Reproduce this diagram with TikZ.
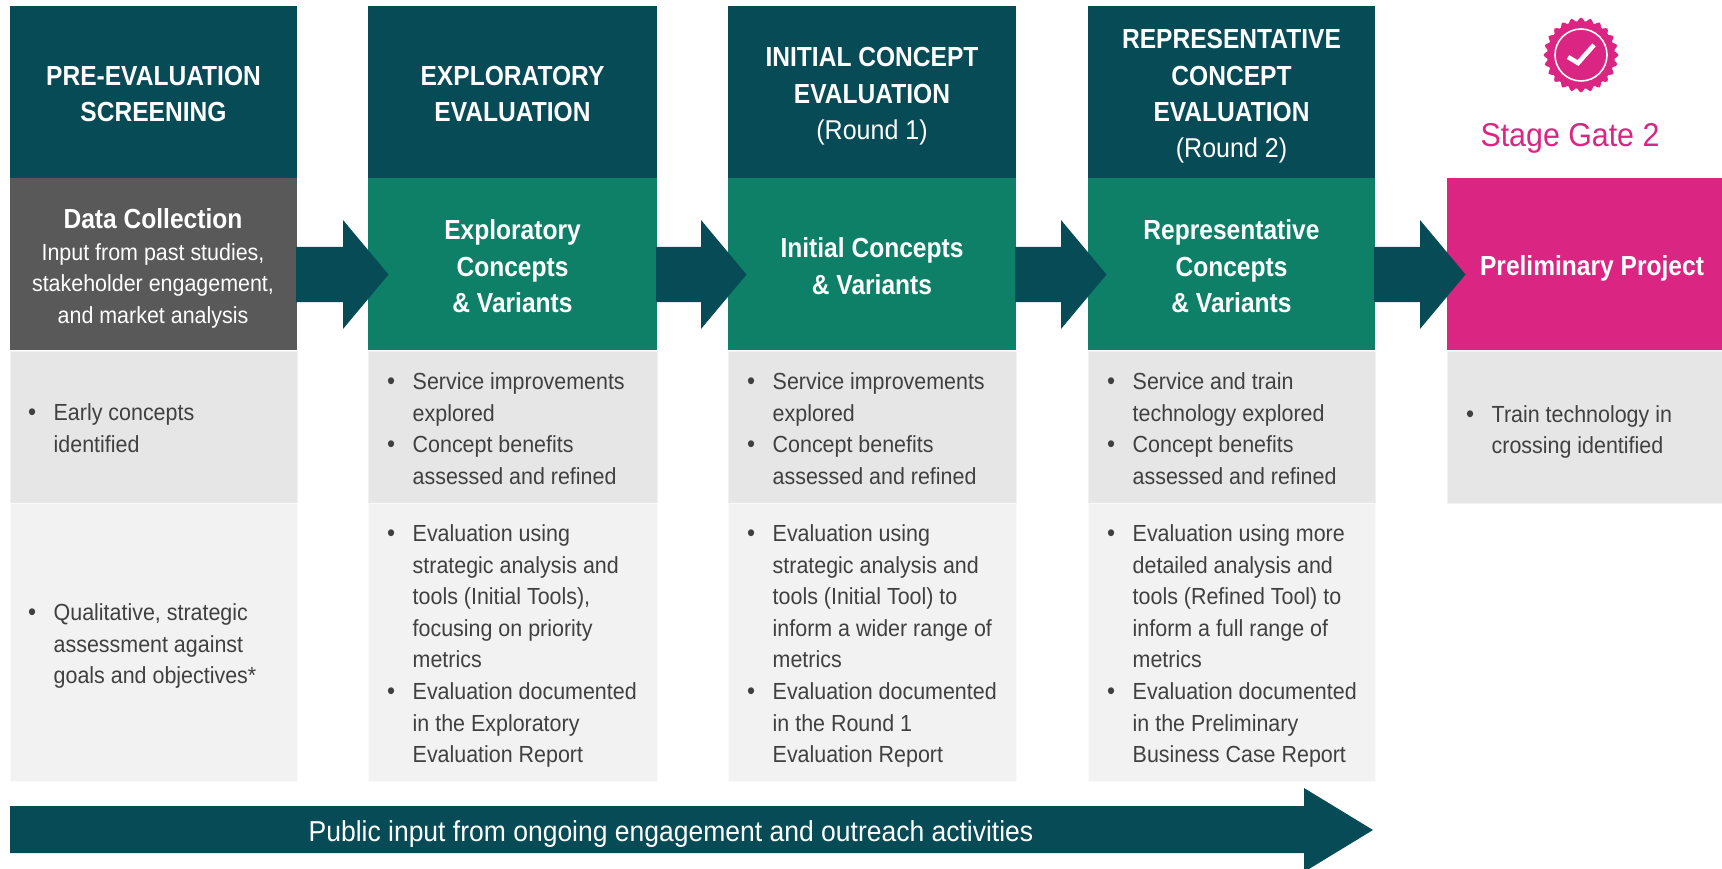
\documentclass[tikz,border=0pt]{standalone}
\usepackage{fontspec}
\setmainfont[FakeStretch=0.92,BoldFeatures={FakeStretch=0.89}]{Liberation Sans}
\usetikzlibrary{calc}
\definecolor{deepteal}{HTML}{064B55}
\definecolor{midgreen}{HTML}{0E8068}
\definecolor{slategray}{HTML}{595959}
\definecolor{rowa}{HTML}{E6E6E6}
\definecolor{rowb}{HTML}{F2F2F2}
\definecolor{edgea}{HTML}{F1F1F1}
\definecolor{edgeb}{HTML}{FAFAFA}
\definecolor{hotpink}{HTML}{DB2583}
\definecolor{bodytxt}{HTML}{404040}
\newcommand{\bl}[1]{\hspace*{2pt}\makebox[25.5pt][l]{\fontsize{25}{31.6}\selectfont •}#1}
\newcommand{\cn}[1]{\hspace*{27.5pt}#1}
\newcommand{\blockarrow}[2]{\fill[deepteal] ([yshift=17pt,xshift=-1pt]#1.east) -- ++(#2,0) -- ++(0,-27) -- ++(45.5,54.5) -- ++(-45.5,54.5) -- ++(0,-27) -- ++(-#2,0) -- cycle;}
\newcommand{\rg}{\fontsize{27.2}{36.3}\selectfont\mdseries}
\tikzset{
 cell/.style={inner sep=0pt,outer sep=0pt,minimum height=#1,anchor=north west},
 head/.style={cell=172pt,fill=deepteal},
 midc/.style={cell=172pt,fill=midgreen},
 boldtxt/.style={inner sep=0pt,text=white,align=center,font=\fontsize{27.6}{36.3}\selectfont\bfseries},
 rowthree/.style={cell=152pt,fill=rowa,draw=edgea,line width=0.9pt},
 rowfour/.style={cell=278pt,fill=rowb,draw=edgeb,line width=0.9pt},
 bullets/.style={inner sep=0pt,anchor=west,align=left,text=bodytxt,font=\fontsize{23.3}{31.6}\selectfont},
}
\begin{document}
\begin{tikzpicture}[x=1pt,y=-1pt]
\useasboundingbox (0,0) rectangle (1722,869);
% column 1
\node[rowthree,minimum width=287pt] (a1) at (10,351) {};
\node[rowfour,minimum width=287pt] (b1) at (10,503) {};
\node[head,minimum width=287pt] (h1) at (10,6) {};
\node[boldtxt] (h1t) at ([yshift=-1.8pt]h1.center) {PRE-EVALUATION\\SCREENING};
\node[cell=172pt,fill=slategray,minimum width=287pt] (m1) at (10,178) {};
\node[inner sep=0pt,text=white,align=center,font=\fontsize{23.3}{31.6}\selectfont] (m1t) at (153,268.5) {{\fontsize{27.6}{31.6}\selectfont\bfseries Data Collection}\\Input from past studies,\\stakeholder engagement,\\and market analysis};
\node[bullets] (a1t) at (26,428) {\bl{Early concepts}\\\cn{identified}};
\node[bullets] (b1t) at (26,646) {\bl{Qualitative, strategic}\\\cn{assessment against}\\\cn{goals and objectives*}};
% column 2
\node[rowthree,minimum width=289pt] (a2) at (368,351) {};
\node[rowfour,minimum width=289pt] (b2) at (368,503) {};
\node[head,minimum width=289pt] (h2) at (368,6) {};
\node[boldtxt] (h2t) at ([yshift=-1.8pt]h2.center) {EXPLORATORY\\EVALUATION};
\node[midc,minimum width=289pt] (m2) at (368,178) {};
\node[boldtxt] (m2t) at ([yshift=-2.2pt]m2.center) {Exploratory\\Concepts\\\& Variants};
\node[bullets] (a2t) at (385,428.5) {\bl{Service improvements}\\\cn{explored}\\\bl{Concept benefits}\\\cn{assessed and refined}};
\node[bullets] (b2t) at (385,646) {\bl{Evaluation using}\\\cn{strategic analysis and}\\\cn{tools (Initial Tools),}\\\cn{focusing on priority}\\\cn{metrics}\\\bl{Evaluation documented}\\\cn{in the Exploratory}\\\cn{Evaluation Report}};
% column 3
\node[rowthree,minimum width=288pt] (a3) at (728,351) {};
\node[rowfour,minimum width=288pt] (b3) at (728,503) {};
\node[head,minimum width=288pt] (h3) at (728,6) {};
\node[boldtxt] (h3t) at ([yshift=-4.4pt]h3.center) {INITIAL CONCEPT\\EVALUATION\\{\rg (Round 1)}};
\node[midc,minimum width=288pt] (m3) at (728,178) {};
\node[boldtxt] (m3t) at ([yshift=-2.2pt]m3.center) {Initial Concepts\\\& Variants};
\node[bullets] (a3t) at (745,428.5) {\bl{Service improvements}\\\cn{explored}\\\bl{Concept benefits}\\\cn{assessed and refined}};
\node[bullets] (b3t) at (745,646) {\bl{Evaluation using}\\\cn{strategic analysis and}\\\cn{tools (Initial Tool) to}\\\cn{inform a wider range of}\\\cn{metrics}\\\bl{Evaluation documented}\\\cn{in the Round 1}\\\cn{Evaluation Report}};
% column 4
\node[rowthree,minimum width=287pt] (a4) at (1088,351) {};
\node[rowfour,minimum width=287pt] (b4) at (1088,503) {};
\node[head,minimum width=287pt] (h4) at (1088,6) {};
\node[boldtxt] (h4t) at ([yshift=-4.4pt]h4.center) {REPRESENTATIVE\\CONCEPT\\EVALUATION\\{\rg (Round 2)}};
\node[midc,minimum width=287pt] (m4) at (1088,178) {};
\node[boldtxt] (m4t) at ([yshift=-2.2pt]m4.center) {Representative\\Concepts\\\& Variants};
\node[bullets] (a4t) at (1105,428.5) {\bl{Service and train}\\\cn{technology explored}\\\bl{Concept benefits}\\\cn{assessed and refined}};
\node[bullets] (b4t) at (1105,646) {\bl{Evaluation using more}\\\cn{detailed analysis and}\\\cn{tools (Refined Tool) to}\\\cn{inform a full range of}\\\cn{metrics}\\\bl{Evaluation documented}\\\cn{in the Preliminary}\\\cn{Business Case Report}};
% column 5
\node[rowthree,minimum width=276pt] (a5) at (1447,351) {};
\node[midc,fill=hotpink,minimum width=275pt] (m5) at (1447,178) {};
\node[boldtxt] (m5t) at (1592,268) {Preliminary Project};
\node[bullets] (a5t) at (1464,432) {\bl{Train technology in}\\\cn{crossing identified}};
% block arrows
\blockarrow{m1}{47}
\blockarrow{m2}{45}
\blockarrow{m3}{46}
\blockarrow{m4}{46}
% stage gate badge
\coordinate (badge) at (1581,55);
\fill[hotpink] plot[smooth cycle,domain=0:357,samples=120] ({1581+(35.5+2*cos(24*\x))*cos(\x)},{55+(35.5+2*cos(24*\x))*sin(\x)});
\draw[white,line width=1.6pt] (badge) circle (26);
\draw[white,line width=4.6pt] (1568,57) -- (1578,63) -- (1594,45);
\node[inner sep=0pt,text=hotpink,font=\fontsize{33}{36}\selectfont] (gate) at (1570,138) {Stage Gate 2};
% public input arrow
\coordinate (pa) at (10,806);
\coordinate (pb) at (1304,806);
\fill[deepteal] (pa) -- (pb) -- ++(0,-18) -- (1373,830) -- (1304,872) -- (1304,853) -- (10,853) -- cycle;
\node[inner sep=0pt,text=white,font=\fontsize{28.8}{32}\selectfont] (pub) at (671,834) {Public input from ongoing engagement and outreach activities};
\end{tikzpicture}
\end{document}
